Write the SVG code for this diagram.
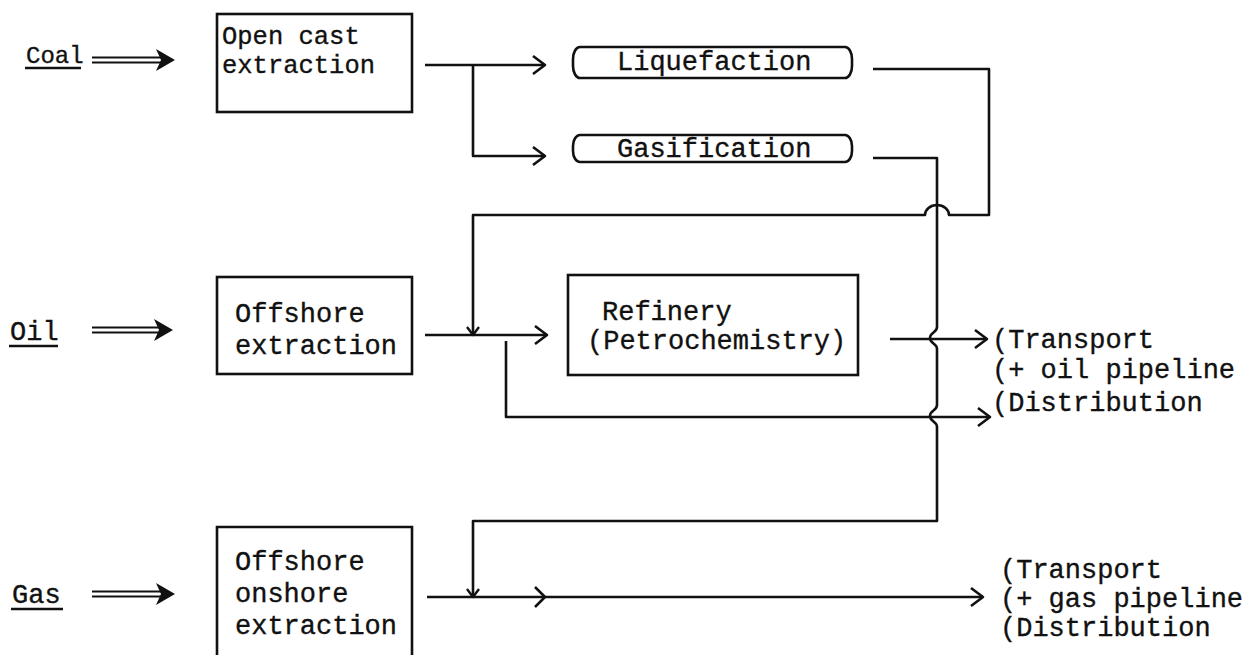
<svg xmlns="http://www.w3.org/2000/svg" width="1250" height="655" viewBox="0 0 1250 655">
<style>
text{font-family:"Liberation Mono","Courier New",monospace;font-size:27px;fill:#111;stroke:#111;stroke-width:0.35}
.box{fill:none;stroke:#111;stroke-width:2.6}
.ln{fill:none;stroke:#111;stroke-width:2.6;stroke-linejoin:round}
.ul{stroke:#111;stroke-width:2.4}
.dbl{stroke:#111;stroke-width:2.2}
</style>
<defs>
<marker id="ah" viewBox="-15 -11 17 22" refX="0" refY="0" markerWidth="17" markerHeight="22" markerUnits="userSpaceOnUse" orient="auto">
<path d="M-12,-9 L0,0 L-12,9" fill="none" stroke="#111" stroke-width="2.6" stroke-linejoin="round"/>
</marker>
<marker id="ahs" viewBox="-11 -8 13 16" refX="0" refY="0" markerWidth="13" markerHeight="16" markerUnits="userSpaceOnUse" orient="auto">
<path d="M-8,-6 L0,0 L-8,6" fill="none" stroke="#111" stroke-width="2.4" stroke-linejoin="round"/>
</marker>
</defs>

<g id="label-coal">
<text x="26" y="63" style="font-size:24px">Coal</text>
<line class="ul" x1="25" y1="68" x2="81" y2="68"/>
</g>
<g id="label-oil">
<text x="10" y="340">Oil</text>
<line class="ul" x1="9" y1="346" x2="58" y2="346"/>
</g>
<g id="label-gas">
<text x="12" y="603">Gas</text>
<line class="ul" x1="11" y1="609" x2="63" y2="609"/>
</g>

<g id="node-opencast">
<rect class="box" x="217" y="14" width="195" height="98"/>
<text x="222" y="44" style="font-size:25.5px">Open cast</text>
<text x="222" y="73" style="font-size:25.5px">extraction</text>
</g>
<g id="node-liquefaction">
<rect class="box" x="573" y="47" width="279" height="31" rx="7" ry="12"/>
<text x="617" y="70">Liquefaction</text>
</g>
<g id="node-gasification">
<rect class="box" x="573" y="135" width="279" height="27" rx="7" ry="11"/>
<text x="617" y="157">Gasification</text>
</g>
<g id="node-offshore-oil">
<rect class="box" x="217" y="277" width="195" height="97"/>
<text x="235" y="322">Offshore</text>
<text x="235" y="354">extraction</text>
</g>
<g id="node-refinery">
<rect class="box" x="568" y="275" width="290" height="100"/>
<text x="602" y="320">Refinery</text>
<text x="587" y="349">(Petrochemistry)</text>
</g>
<g id="node-offshore-gas">
<path class="box" d="M217,660 V527 H412 V660"/>
<text x="235" y="570">Offshore</text>
<text x="235" y="602">onshore</text>
<text x="235" y="634">extraction</text>
</g>
<g id="out-oil">
<text x="992" y="348">(Transport</text>
<text x="992" y="378">(+ oil pipeline</text>
<text x="992" y="411">(Distribution</text>
</g>
<g id="out-gas">
<text x="1000" y="578">(Transport</text>
<text x="1000" y="607">(+ gas pipeline</text>
<text x="1000" y="636">(Distribution</text>
</g>

<g id="connectors">
<line class="dbl" x1="92" y1="57.5" x2="162" y2="57.5"/>
<line class="dbl" x1="92" y1="62.5" x2="162" y2="62.5"/>
<path d="M156,49 L175,60 L156,71 L161,60 Z" fill="#111"/>
<line class="dbl" x1="92" y1="327.5" x2="160" y2="327.5"/>
<line class="dbl" x1="92" y1="332.5" x2="160" y2="332.5"/>
<path d="M154,319 L173,330 L154,341 L159,330 Z" fill="#111"/>
<line class="dbl" x1="92" y1="591.5" x2="162" y2="591.5"/>
<line class="dbl" x1="92" y1="596.5" x2="162" y2="596.5"/>
<path d="M156,583 L175,594 L156,605 L161,594 Z" fill="#111"/>

<path class="ln" d="M425,65 H545" marker-end="url(#ah)"/>
<path class="ln" d="M473,65 V156 H545" marker-end="url(#ah)"/>
<path class="ln" d="M873,69 H989 V215 H949 A12,10 0 0 0 925,215 H473 V335" marker-end="url(#ahs)"/>
<path class="ln" d="M873,158 H937 V327 C937,333 930,332 930,338 C930,344 937,343 937,349 V405 C937,411 930,410 930,416 C930,422 937,421 937,427 V521 H473 V597" marker-end="url(#ahs)"/>

<path class="ln" d="M425,335 H547" marker-end="url(#ah)"/>
<path class="ln" d="M506,341 V417 H990" marker-end="url(#ah)"/>
<path class="ln" d="M890,339 H987" marker-end="url(#ah)"/>

<path class="ln" d="M427,597 H983" marker-end="url(#ah)"/>
<path class="ln" d="M535,587 L545,597 L535,607"/>
</g>
</svg>
